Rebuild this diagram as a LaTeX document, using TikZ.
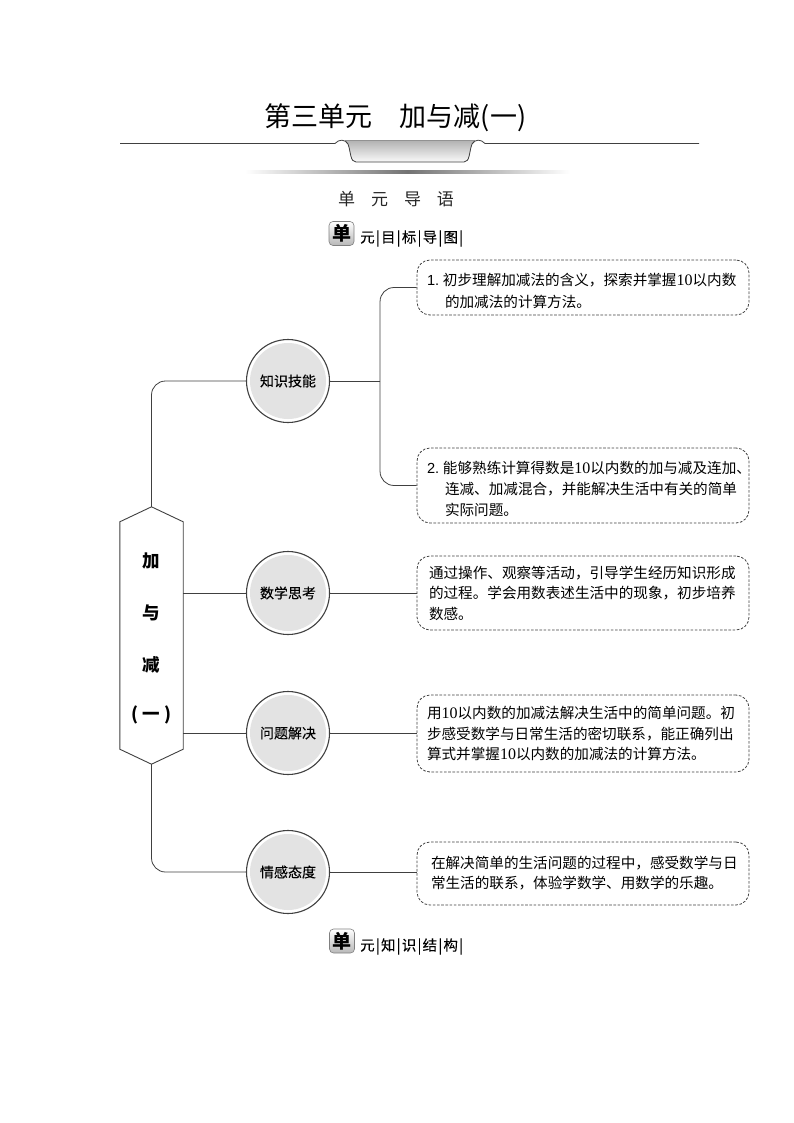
\documentclass[tikz,border=0pt]{standalone}
\usepackage{fontspec}
\setmainfont{Noto Sans CJK SC}
\newfontfamily\numfont{Liberation Serif}
\newfontfamily\lstfont{Liberation Sans}
\newfontfamily\heavyfont[FakeBold=0.1]{Noto Sans CJK SC}
\usetikzlibrary{calc}
\definecolor{lineC}{HTML}{404040}
\definecolor{discC}{HTML}{E3E3E3}
\newcommand{\ten}{{\numfont\fontsize{16}{16}\selectfont 10}}
\newcommand{\ind}{\hspace*{18pt}}
\newcommand{\lst}[1]{{\lstfont #1.}\hspace{3.8pt}}
\newcommand{\vb}{\hspace{1.2pt}|\hspace{1.2pt}}
\tikzset{
  conn/.style={draw=lineC,line width=0.8pt},
  elbow/.style={conn,rounded corners=14pt},
  disc/.style={circle,draw=lineC,line width=1.1pt,fill=white,minimum size=83pt,inner sep=0pt,
    font=\heavyfont\fontsize{14}{16}\selectfont,
    path picture={\fill[discC] (path picture bounding box.center) circle (38pt);}},
  dashbox/.style={draw=lineC,line width=0.8pt,dash pattern=on 2.6pt off 1.6pt,rounded corners=13pt,
    inner ysep=0pt,align=left,fill=white,text=black},
  inset/.style={inner xsep=#1pt,text width=332pt-2*#1pt},
  textset/.style={font=\fontsize{14.6}{#1}\selectfont},
  textdown/.style={execute at begin node={\rule{0pt}{#1}}},
  badge/.style={draw=black!50,line width=0.6pt,rounded corners=4pt,top color=white,bottom color=black!28,
    minimum width=25pt,minimum height=24pt,inner sep=0pt,font=\bfseries\fontsize{19}{20}\selectfont},
  badgetext/.style={anchor=west,inner sep=0pt,font=\heavyfont\fontsize{14.5}{16}\selectfont},
  hexletter/.style={inner sep=0pt,font=\bfseries\fontsize{17.5}{20}\selectfont},
}
\begin{document}
\begin{tikzpicture}[x=1pt,y=-1pt]
\useasboundingbox (0,0) rectangle (794,1123);
% heading
\node[inner sep=0pt,font=\fontsize{27}{30}\selectfont] (title) at (395.5,118) {第三单元\hspace{27pt}加与减(一)};
\coordinate (ruleL) at (120,143.5);
\coordinate (ruleR) at (699,143.5);
\fill[top color=black!30,bottom color=black!2] (345,140.5) .. controls (346.5,141) and (347,142) .. (348,144) .. controls (351,152) and (350,162) .. (356,162) -- (464,162) .. controls (470,162) and (469,152) .. (472,144) .. controls (473,142) and (473.5,141) .. (475,140.5) -- cycle;
\draw[lineC,line width=0.8pt] (ruleL) -- (335,143.5) .. controls (339,139) and (345,139) .. (348,144) .. controls (351,152) and (350,162) .. (356,162) -- (464,162) .. controls (470,162) and (469,152) .. (472,144) .. controls (475,139) and (481,139) .. (485,143.5) -- (ruleR);
\shade[left color=white,right color=white,middle color=black!55] (245,171) rectangle (570,173.5);
\node[inner sep=0pt,font=\fontsize{17}{20}\selectfont,text=black!85] (sub) at (396,199) {单\hspace{16pt}元\hspace{16pt}导\hspace{16pt}语};
% unit badges
\node[badge] (badgeA) at (341.5,233.5) {单};
\node[badgetext] (labelA) at (360,238.5) {元\vb 目\vb 标\vb 导\vb 图\vb};
\node[badge] (badgeB) at (342,941) {单};
\node[badgetext] (labelB) at (360,946.5) {元\vb 知\vb 识\vb 结\vb 构\vb};
% hexagon
\node[minimum width=63pt,minimum height=257pt,inner sep=0pt] (hex) at (151.5,635.5) {};
\draw[lineC,line width=0.9pt,fill=white] (hex.north) -- ($(hex.north east)+(0,15)$) -- ($(hex.south east)+(0,-15)$) -- (hex.south) -- ($(hex.south west)+(0,-15)$) -- ($(hex.north west)+(0,15)$) -- cycle;
\node[hexletter] (h1) at (151,561) {加};
\node[hexletter] (h2) at (151,613) {与};
\node[hexletter] (h3) at (151,665) {减};
\node[hexletter] (h4) at (151.5,715) {(\hspace{4pt}一\hspace{4pt})};
% circles
\node[disc] (c1) at (288,381) {知识技能};
\node[disc] (c2) at (288,593) {数学思考};
\node[disc] (c3) at (288,733) {问题解决};
\node[disc] (c4) at (288,872) {情感态度};
% boxes
\node[dashbox,inset=10,textset=22,textdown=20pt,minimum height=55pt] (b1) at (583,287.5) {\lst{1}初步理解加减法的含义，探索并掌握\ten 以内数\\\ind 的加减法的计算方法。};
\node[dashbox,inset=10,textset=21,textdown=19pt,minimum height=75pt] (b2) at (583,485.5) {\lst{2}能够熟练计算得数是\ten 以内数的加与减及连加、\\\ind 连减、加减混合，并能解决生活中有关的简单\\\ind 实际问题。};
\node[dashbox,inset=12,textset=20.5,minimum height=74pt] (b3) at (583,593) {通过操作、观察等活动，引导学生经历知识形成\\的过程。学会用数表述生活中的现象，初步培养\\数感。};
\node[dashbox,inset=10,textset=20.5,minimum height=77pt] (b4) at (583,733.5) {用\ten 以内数的加减法解决生活中的简单问题。初\\步感受数学与日常生活的密切联系，能正确列出\\算式并掌握\ten 以内数的加减法的计算方法。};
\node[dashbox,inset=14,textset=20,minimum height=63pt] (b5) at (583,873.5) {在解决简单的生活问题的过程中，感受数学与日\\常生活的联系，体验学数学、用数学的乐趣。};
% connectors
\coordinate (fork) at ($(c1.east)+(50,0)$);
\draw[elbow] (hex.north) |- (c1.west);
\draw[elbow] (hex.south) |- (c4.west);
\draw[conn] (hex.east |- c2.west) -- (c2.west);
\draw[conn] (hex.east |- c3.west) -- (c3.west);
\draw[conn] (c1.east) -- (fork);
\draw[elbow] (fork) |- (b1.west);
\draw[elbow] (fork) |- (b2.west);
\draw[conn] (c2.east) -- (c2.east -| b3.west);
\draw[conn] (c3.east) -- (c3.east -| b4.west);
\draw[conn] (c4.east) -- (c4.east -| b5.west);
\end{tikzpicture}
\end{document}
